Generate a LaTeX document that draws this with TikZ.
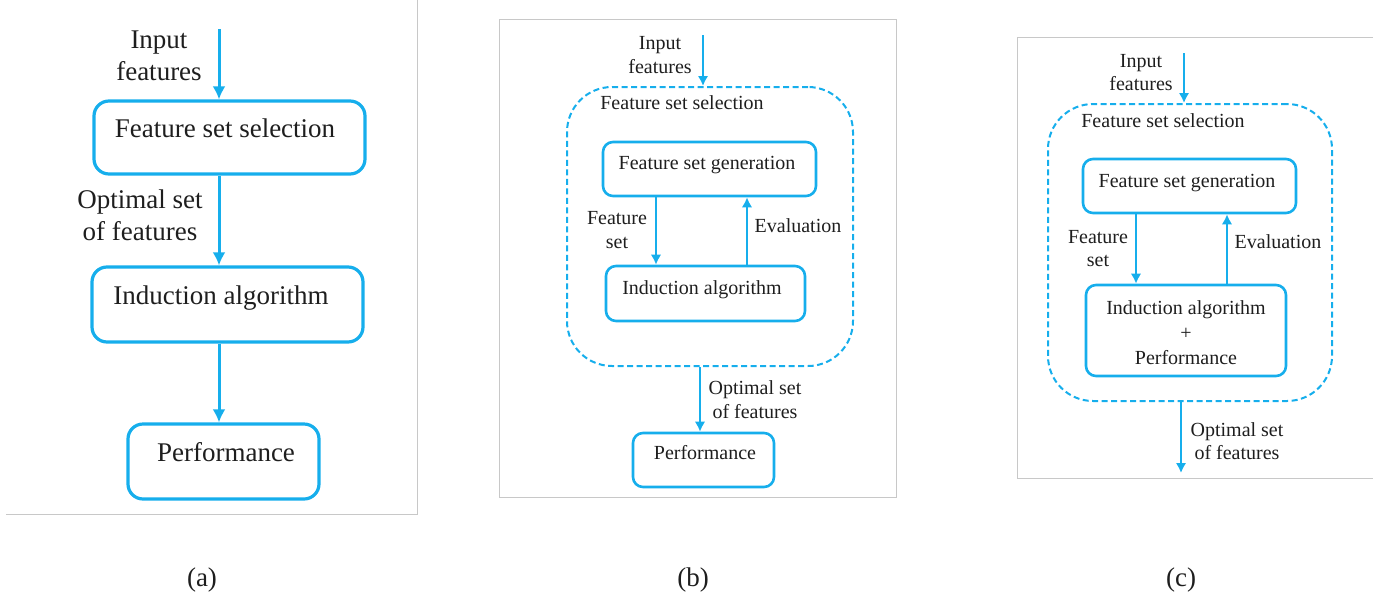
\documentclass[tikz,border=0pt]{standalone}
\usepackage{fontspec}
\setmainfont{Liberation Serif}
\usetikzlibrary{arrows.meta}
\definecolor{fblue}{RGB}{22,174,236}
\definecolor{framec}{RGB}{200,200,200}
\definecolor{txtc}{RGB}{30,30,30}
\tikzset{
 bigf/.style={font=\fontsize{27}{32}\selectfont},
 smallf/.style={font=\fontsize{20}{24}\selectfont},
 lbl/.style={inner sep=0pt, text=txtc, align=center},
 oneA/.style={lbl, bigf, text height=17.8pt, text depth=0pt},
 oneB/.style={lbl, smallf, text height=13.2pt, text depth=0pt},
 boxa/.style={draw=fblue, line width=3.2pt, rounded corners=15pt, rectangle, inner sep=0pt},
 boxb/.style={draw=fblue, line width=2.6pt, rounded corners=10pt, rectangle, inner sep=0pt},
 dashbox/.style={draw=fblue, line width=2pt, dash pattern=on 6pt off 3.5pt, rounded corners=45pt, rectangle, inner sep=0pt},
 arra/.style={draw=fblue, line width=3pt, -{Latex[length=13pt,width=13pt]}},
 arrb/.style={draw=fblue, line width=2.2pt, -{Latex[length=10pt,width=10.5pt]}},
 framel/.style={draw=framec, line width=1pt},
 capf/.style={lbl, font=\fontsize{27}{30}\selectfont},
}
\begin{document}
\begin{tikzpicture}[x=1pt,y=-1pt]
\useasboundingbox (0,0) rectangle (1376,603);
% ---------- frames ----------
\draw[framel] (6,514) -- (417,514) -- (417,0);
\draw[framel] (499,19) rectangle (896,497);
\draw[framel] (1373,37) -- (1017,37) -- (1017,478) -- (1373,478);

% ---------- panel (a) ----------
\node[boxa, minimum width=271pt, minimum height=73pt] (a1) at (229.5,137.5) {};
\node[boxa, minimum width=271pt, minimum height=75pt] (a2) at (227.5,304.5) {};
\node[boxa, minimum width=191pt, minimum height=75pt] (a3) at (223.5,461.5) {};
\node[oneA] (a1t) at (225,129) {Feature set selection};
\node[oneA] (a2t) at (221,295.5) {Induction algorithm};
\node[oneA] (a3t) at (226,453) {Performance};
\node[lbl, bigf] (ain_t) at (159,56) {Input\\features};
\node[lbl, bigf] (aopt_t) at (140,215) {Optimal set\\of features};
\coordinate (ain) at (219,29);
\draw[arra] (ain) -- (ain |- a1.north);
\draw[arra] (ain |- a1.south) -- (ain |- a2.north);
\draw[arra] (ain |- a2.south) -- (ain |- a3.north);

% ---------- panel (b) ----------
\node[dashbox, minimum width=286pt, minimum height=279pt] (bsel) at (710,226.5) {};
\node[boxb, minimum width=213pt, minimum height=54pt] (bgen) at (709.5,169) {};
\node[boxb, minimum width=199pt, minimum height=55pt] (bind) at (705.5,293.5) {};
\node[boxb, minimum width=141pt, minimum height=54pt] (bperf) at (703.5,460) {};
\node[oneB] (bsel_t) at (682,103) {Feature set selection};
\node[oneB] (bgen_t) at (707,163) {Feature set generation};
\node[oneB] (bind_t) at (702,288) {Induction algorithm};
\node[oneB] (bperf_t) at (705,453) {Performance};
\node[oneB] (beval_t) at (798,226) {Evaluation};
\node[lbl, smallf] (bin_t) at (660,55) {Input\\features};
\node[lbl, smallf] (bfs_t) at (617,230.5) {Feature\\set};
\node[lbl, smallf] (bopt_t) at (755,400) {Optimal set\\of features};
\coordinate (bin) at (703,35);
\coordinate (bdn) at (656,0);
\coordinate (bup) at (747,0);
\coordinate (bout) at (700,0);
\draw[arrb] (bin) -- (bin |- bsel.north);
\draw[arrb] (bdn |- bgen.south) -- (bdn |- bind.north);
\draw[arrb] (bup |- bind.north) -- (bup |- bgen.south);
\draw[arrb] (bout |- bsel.south) -- (bout |- bperf.north);

% ---------- panel (c) ----------
\node[dashbox, minimum width=284pt, minimum height=297pt] (csel) at (1190,252.5) {};
\node[boxb, minimum width=213pt, minimum height=54pt] (cgen) at (1189.5,186) {};
\node[boxb, minimum width=200pt, minimum height=91pt] (cind) at (1186,330.5) {};
\node[oneB] (csel_t) at (1163,121) {Feature set selection};
\node[oneB] (cgen_t) at (1187,181) {Feature set generation};
\node[lbl, font=\fontsize{20}{25}\selectfont] (cind_t) at (1186,333) {Induction algorithm\\+\\Performance};
\node[oneB] (ceval_t) at (1278,242) {Evaluation};
\node[lbl, font=\fontsize{20}{23}\selectfont] (cin_t) at (1141,73) {Input\\features};
\node[lbl, font=\fontsize{20}{23}\selectfont] (cfs_t) at (1098,248.5) {Feature\\set};
\node[lbl, font=\fontsize{20}{23}\selectfont] (copt_t) at (1237,441.5) {Optimal set\\of features};
\coordinate (cin) at (1184,53);
\coordinate (cdn) at (1136,0);
\coordinate (cup) at (1227,0);
\coordinate (cend) at (1181,473);
\draw[arrb] (cin) -- (cin |- csel.north);
\draw[arrb] (cdn |- cgen.south) -- (cdn |- cind.north);
\draw[arrb] (cup |- cind.north) -- (cup |- cgen.south);
\draw[arrb] (cend |- csel.south) -- (cend);

% ---------- captions ----------
\node[capf] (capa) at (202,580) {(a)};
\node[capf] (capb) at (693,580) {(b)};
\node[capf] (capc) at (1181,580) {(c)};
\end{tikzpicture}
\end{document}
